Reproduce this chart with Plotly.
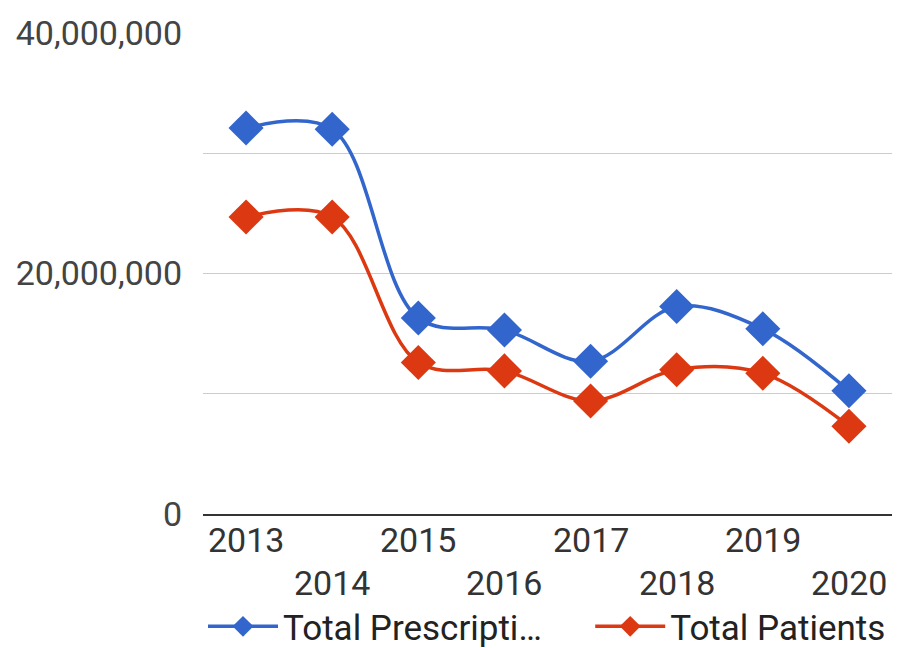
import plotly.graph_objects as go

# Yearly totals
years = ["2013", "2014", "2015", "2016", "2017", "2018", "2019", "2020"]
total_prescriptions = [32100000, 32000000, 16300000, 15300000, 12700000, 17250000, 15400000, 10250000]
total_patients = [24700000, 24700000, 12600000, 11900000, 9400000, 12000000, 11700000, 7300000]

y_tickvals = [0, 10000000, 20000000, 30000000, 40000000]
y_ticktext = ["0", "", "20,000,000", "", "40,000,000"]

BLUE = "#3366cc"
RED = "#dc3912"
FONT = "Roboto"

fig = go.Figure()
fig.add_trace(go.Scatter(
    x=years, y=total_prescriptions, name="Total Prescripti…" + "\u00a0" * 5,
    mode="lines+markers",
    line=dict(color=BLUE, width=3.5, shape="spline", smoothing=1),
    marker=dict(symbol="diamond", size=27, color=BLUE),
))
fig.add_trace(go.Scatter(
    x=years, y=total_patients, name="Total Patients",
    mode="lines+markers",
    line=dict(color=RED, width=3.5, shape="spline", smoothing=1),
    marker=dict(symbol="diamond", size=27, color=RED),
))

# Year labels, staggered over two rows so they do not collide
for i, yr in enumerate(years):
    fig.add_annotation(
        x=i, y=0, xref="x", yref="paper",
        text=yr, showarrow=False,
        yanchor="middle", yshift=-26 if i % 2 == 0 else -69,
        font=dict(family=FONT, size=34, color="#333333"),
    )

fig.update_layout(
    width=901, height=648,
    margin=dict(l=203, r=9, t=33, b=134, autoexpand=False),
    paper_bgcolor="white", plot_bgcolor="white",
    font=dict(family=FONT, size=34, color="#444444"),
    showlegend=True,
    legend=dict(
        orientation="h", x=0, xanchor="left",
        yref="container", y=0.033, yanchor="middle",
        font=dict(family=FONT, size=35, color="#222222"),
        itemwidth=70,
        bgcolor="rgba(0,0,0,0)",
    ),
    xaxis=dict(
        type="category", categoryarray=years, range=[-0.5, 7.5],
        showticklabels=False, ticks="",
        showgrid=False, zeroline=False,
        showline=True, linecolor="#333333", linewidth=2,
        fixedrange=True,
    ),
    yaxis=dict(
        range=[0, 40000000],
        tickvals=y_tickvals, ticktext=y_ticktext,
        showgrid=True, gridcolor="#cccccc", gridwidth=1,
        zeroline=False, showline=False,
        ticklabelstandoff=20,
        tickfont=dict(family=FONT, size=34, color="#444444"),
        fixedrange=True,
    ),
)

fig.write_html("out.html")
